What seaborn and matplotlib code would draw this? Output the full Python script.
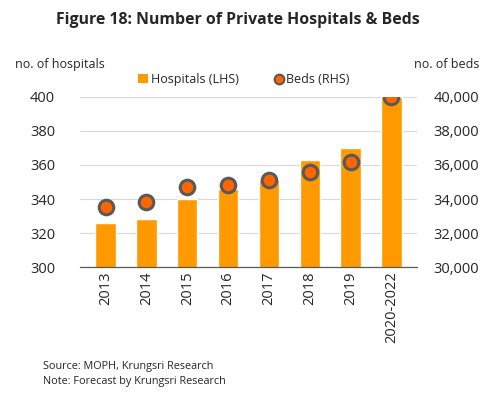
import matplotlib
matplotlib.use("Agg")
import matplotlib.pyplot as plt
import seaborn as sns
import pandas as pd
from matplotlib.lines import Line2D
from matplotlib.patches import Patch
from matplotlib.ticker import FuncFormatter

# === Data ===
years     = ['2013', '2014', '2015', '2016', '2017', '2018', '2019', '2020-2022']
hospitals = [326, 328, 340, 346, 351, 363, 370, 400]
beds      = [33530, 33800, 34700, 34820, 35130, 35560, 36150, 40000]

BAR_COL  = '#FF9900'
DOT_COL  = '#FF6600'
EDGE_COL = '#595959'

df = pd.DataFrame({'year': years, 'hospitals': hospitals, 'beds': beds})

sns.set_theme(style='white')
plt.rcParams['font.family'] = ['Open Sans', 'DejaVu Sans']

fig = plt.figure(figsize=(4.98, 3.97), dpi=100)
ax = fig.add_axes([0.161, 0.327, 0.676, 0.429])

# bars (LHS)
sns.barplot(data=df, x='year', y='hospitals', color=BAR_COL, width=0.5,
            saturation=1, ax=ax)
ax.set_ylim(300, 400)
ax.set_yticks([300, 320, 340, 360, 380, 400])
ax.grid(axis='y', color='#D9D9D9', linewidth=0.8)
ax.set_axisbelow(True)
ax.set_xlabel('')
ax.set_ylabel('')
ax.tick_params(axis='x', rotation=90, labelsize=10.5, pad=3, length=0)
ax.tick_params(axis='y', labelsize=10.5, pad=18, length=0)
for s in ['top', 'right', 'left']:
    ax.spines[s].set_visible(False)
ax.spines['bottom'].set_color('#595959')
ax.spines['bottom'].set_linewidth(0.9)

# dots (RHS)
ax2 = ax.twinx()
sns.scatterplot(data=df, x='year', y='beds', color=DOT_COL, s=110,
                edgecolor=EDGE_COL, linewidth=2.2, zorder=5, ax=ax2, legend=False)
ax2.set_ylim(30000, 40000)
ax2.set_yticks([30000, 32000, 34000, 36000, 38000, 40000])
ax2.yaxis.set_major_formatter(FuncFormatter(lambda v, p: f'{int(v):,}'))
ax2.tick_params(axis='y', labelsize=10.5, pad=12, length=0)
ax2.set_ylabel('')
ax2.set_xlabel('')
for s in ['top', 'right', 'left', 'bottom']:
    ax2.spines[s].set_visible(False)
ax2.grid(False)

# title, axis captions
fig.text(0.478, 0.95, 'Figure 18: Number of Private Hospitals & Beds',
         ha='center', va='center', fontsize=11.4, fontweight='bold')
fig.text(0.03, 0.837, 'no. of hospitals', ha='left', va='center', fontsize=9)
fig.text(0.963, 0.837, 'no. of beds', ha='right', va='center', fontsize=9)

# legend
handles = [Patch(facecolor=BAR_COL, edgecolor='none', label='Hospitals (LHS)'),
           Line2D([0], [0], marker='o', linestyle='', markerfacecolor=DOT_COL,
                  markeredgecolor=EDGE_COL, markeredgewidth=1.5, markersize=7,
                  label='Beds (RHS)')]
fig.legend(handles=handles, loc='center', bbox_to_anchor=(0.49, 0.8), ncol=2,
           frameon=False, fontsize=9, handlelength=0.8, handletextpad=0.2,
           columnspacing=2.8)

# footnotes
fig.text(0.086, 0.077, 'Source: MOPH, Krungsri Research', fontsize=7.8, va='center')
fig.text(0.086, 0.038, 'Note: Forecast by Krungsri Research', fontsize=7.8, va='center')

fig.savefig('out.png', dpi=100)
